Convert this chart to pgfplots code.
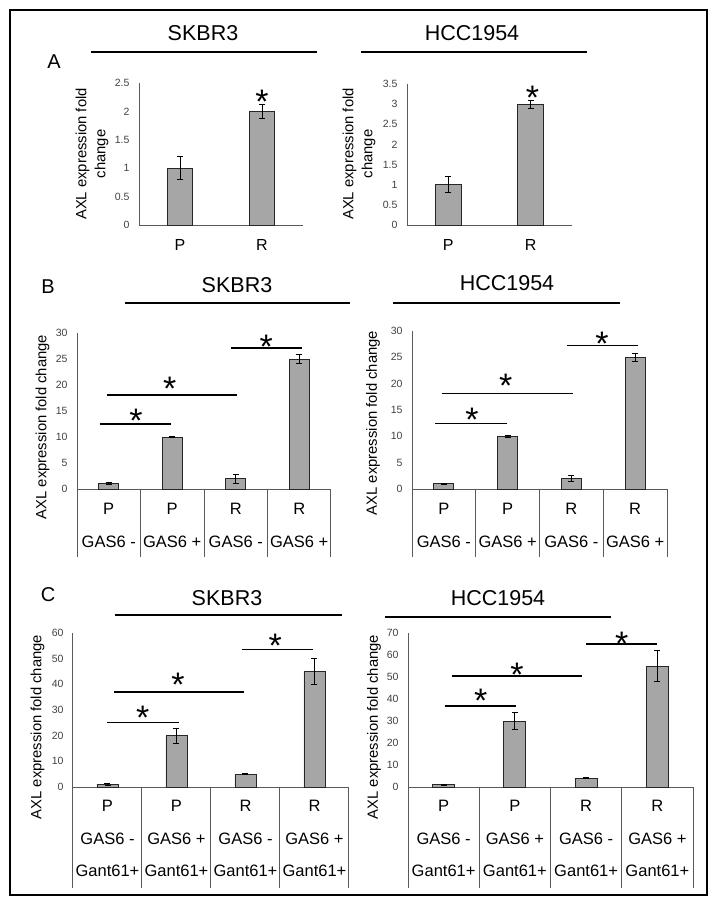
\documentclass[border=0pt]{standalone}
\usepackage{fontspec}
\setmainfont{Liberation Sans}
\usepackage{pgfplots}
\pgfplotsset{compat=1.18}
\definecolor{barfill}{RGB}{166,166,166}
\definecolor{baredge}{RGB}{38,38,38}
\definecolor{axgray}{RGB}{89,89,89}
\definecolor{tickgray}{RGB}{64,64,64}
\pgfplotsset{
  panel/.style={
    scale only axis, anchor=south west,
    axis x line=bottom, axis y line=left,
    axis line style={draw=axgray, line width=1pt, -},
    major tick length=0pt,
    enlargelimits=false, clip=false,
    ymin=0,
    yticklabel style={font=\fontsize{10.5}{12}\selectfont, text=tickgray, xshift=-6pt},
    /pgf/number format/assume math mode=true,
    xticklabel style={anchor=north, align=center, text=black},
  },
  mybar/.style={ybar, fill=barfill, draw=baredge, line width=0.8pt,
    /pgfplots/error bars/y dir=both, /pgfplots/error bars/y explicit,
    /pgfplots/error bars/error mark=-,
    /pgfplots/error bars/error bar style={black, line width=0.8pt},
    /pgfplots/error bars/error mark options={black, line width=0.8pt, mark size=3pt, rotate=90}},
}
\tikzset{
  sig/.style={black, line width=1.3pt},
  star/.style={font=\fontsize{34}{34}\selectfont, anchor=base, yshift=-19pt, inner sep=0pt},
  ttl/.style={font=\fontsize{21.5}{24}\selectfont},
  ylab/.style={font=\fontsize{14.8}{19}\selectfont, rotate=90, align=center, text=black},
}
\begin{document}
\begin{tikzpicture}
\useasboundingbox (0,0) rectangle (717pt,-906pt);
\draw[black, line width=2pt] (10pt,-10pt) rectangle (707pt,-895pt);

% ---------- Panel A ----------
\node[font=\fontsize{20}{24}\selectfont] at (54pt,-62pt) {A};
\node[ttl] at (203pt,-33pt) {SKBR3};
\draw[sig] (91pt,-52pt) -- (317pt,-52pt);
\node[ttl] at (472pt,-33pt) {HCC1954};
\draw[sig] (361pt,-52pt) -- (587pt,-52pt);
\node[ylab] at (92pt,-154pt) {AXL expression fold\\change};
\node[ylab] at (359pt,-154pt) {AXL expression fold\\change};

\begin{axis}[panel, at={(139pt,-225pt)}, width=164pt, height=142pt,
  xmin=-0.5, xmax=1.5, ymax=2.5, ytick={0,0.5,1,1.5,2,2.5},
  xtick={0,1}, xticklabels={P,R},
  xticklabel style={font=\fontsize{16}{19}\selectfont, yshift=-11pt}]
\addplot[mybar, bar width=25pt] coordinates {(0,1) +- (0,0.2) (1,2) +- (0,0.12)};
\node[star] at (axis cs:1,2.29) {*};
\end{axis}

\begin{axis}[panel, at={(407pt,-225pt)}, width=165pt, height=141pt,
  xmin=-0.5, xmax=1.5, ymax=3.5, ytick={0,0.5,1,1.5,2,2.5,3,3.5},
  xtick={0,1}, xticklabels={P,R},
  xticklabel style={font=\fontsize{16}{19}\selectfont, yshift=-11pt}]
\addplot[mybar, bar width=26pt] coordinates {(0,1) +- (0,0.2) (1,3) +- (0,0.1)};
\node[star] at (axis cs:1.02,3.35) {*};
\end{axis}

% ---------- Panel B ----------
\node[font=\fontsize{20}{24}\selectfont] at (48pt,-287pt) {B};
\node[ttl] at (237pt,-285pt) {SKBR3};
\draw[sig] (125pt,-303pt) -- (350pt,-303pt);
\node[ttl] at (507pt,-283pt) {HCC1954};
\draw[sig] (393pt,-303pt) -- (620pt,-303pt);
\node[ylab] at (42.5pt,-427pt) {AXL expression fold change};
\node[ylab] at (373pt,-423pt) {AXL expression fold change};

\begin{axis}[panel, at={(77pt,-489pt)}, width=254pt, height=156pt,
  xmin=-0.5, xmax=3.5, ymax=30, ytick={0,5,10,15,20,25,30},
  xtick={0,1,2,3}, xticklabels={{P\\GAS6 -},{P\\GAS6 +},{R\\GAS6 -},{R\\GAS6 +}},
  xticklabel style={font=\fontsize{16.5}{33}\selectfont, yshift=-11pt}]
\addplot[mybar, bar width=20pt] coordinates {(0,1) +- (0,0.2) (1,10) +- (0,0.1) (2,2) +- (0,0.9) (3,25) +- (0,0.9)};
\pgfplotsinvokeforeach{-0.5,0.5,1.5,2.5,3.5}{\draw[axgray, line width=1pt] (axis cs:#1,0) -- ++(0pt,-68pt);}
\draw[sig] (axis cs:-0.138,12.5) -- (axis cs:0.98,12.5);
\draw[sig] (axis cs:-0.027,18.1) -- (axis cs:2.02,18.1);
\draw[sig] (axis cs:1.925,27.1) -- (axis cs:3.04,27.1);
\node[star] at (axis cs:0.43,14.6) {*};
\node[star] at (axis cs:0.96,20.6) {*};
\node[star] at (axis cs:2.48,28.8) {*};
\end{axis}

\begin{axis}[panel, at={(412pt,-489pt)}, width=255pt, height=158pt,
  xmin=-0.5, xmax=3.5, ymax=30, ytick={0,5,10,15,20,25,30},
  xtick={0,1,2,3}, xticklabels={{P\\GAS6 -},{P\\GAS6 +},{R\\GAS6 -},{R\\GAS6 +}},
  xticklabel style={font=\fontsize{16.5}{33}\selectfont, yshift=-11pt}]
\addplot[mybar, bar width=20pt] coordinates {(0,1) +- (0,0.1) (1,10) +- (0,0.2) (2,2) +- (0,0.5) (3,25) +- (0,0.7)};
\pgfplotsinvokeforeach{-0.5,0.5,1.5,2.5,3.5}{\draw[axgray, line width=1pt] (axis cs:#1,0) -- ++(0pt,-68pt);}
\draw[sig] (axis cs:-0.139,12.5) -- (axis cs:0.99,12.5);
\draw[sig] (axis cs:-0.03,18.2) -- (axis cs:2.03,18.2);
\draw[sig] (axis cs:1.93,27.2) -- (axis cs:3.05,27.2);
\node[star] at (axis cs:0.44,14.6) {*};
\node[star] at (axis cs:0.97,20.9) {*};
\node[star] at (axis cs:2.48,29.0) {*};
\end{axis}

% ---------- Panel C ----------
\node[font=\fontsize{20}{24}\selectfont] at (48pt,-595pt) {C};
\node[ttl] at (227pt,-598pt) {SKBR3};
\draw[sig] (115pt,-615pt) -- (342pt,-615pt);
\node[ttl] at (498pt,-598pt) {HCC1954};
\draw[sig] (385pt,-617pt) -- (611pt,-617pt);
\node[ylab] at (37.5pt,-727pt) {AXL expression fold change};
\node[ylab] at (374pt,-727pt) {AXL expression fold change};

\begin{axis}[panel, at={(73pt,-787pt)}, width=276pt, height=154pt,
  xmin=-0.5, xmax=3.5, ymax=60, ytick={0,10,20,30,40,50,60},
  xtick={0,1,2,3}, xticklabels={{P\\GAS6 -\\Gant61+},{P\\GAS6 +\\Gant61+},{R\\GAS6 -\\Gant61+},{R\\GAS6 +\\Gant61+}},
  xticklabel style={font=\fontsize{16.5}{32.5}\selectfont, yshift=-10pt}]
\addplot[mybar, bar width=21pt] coordinates {(0,1) +- (0,0.3) (1,20) +- (0,3) (2,5) +- (0,0.2) (3,45) +- (0,5)};
\pgfplotsinvokeforeach{-0.5,0.5,1.5,2.5,3.5}{\draw[axgray, line width=1pt] (axis cs:#1,0) -- ++(0pt,-101pt);}
\draw[sig] (axis cs:-0.007,25) -- (axis cs:1.036,25);
\draw[sig] (axis cs:0.094,37) -- (axis cs:1.978,37);
\draw[sig] (axis cs:1.95,53.7) -- (axis cs:2.98,53.7);
\node[star] at (axis cs:0.51,30) {*};
\node[star] at (axis cs:1.02,42.5) {*};
\node[star] at (axis cs:2.43,58) {*};
\end{axis}

\begin{axis}[panel, at={(408pt,-787pt)}, width=285pt, height=154pt,
  xmin=-0.5, xmax=3.5, ymax=70, ytick={0,10,20,30,40,50,60,70},
  xtick={0,1,2,3}, xticklabels={{P\\GAS6 -\\Gant61+},{P\\GAS6 +\\Gant61+},{R\\GAS6 -\\Gant61+},{R\\GAS6 +\\Gant61+}},
  xticklabel style={font=\fontsize{16.5}{32.5}\selectfont, yshift=-10pt}]
\addplot[mybar, bar width=22pt] coordinates {(0,1) +- (0,0.2) (1,30) +- (0,4) (2,4) +- (0,0.3) (3,55) +- (0,7)};
\pgfplotsinvokeforeach{-0.5,0.5,1.5,2.5,3.5}{\draw[axgray, line width=1pt] (axis cs:#1,0) -- ++(0pt,-101pt);}
\draw[sig] (axis cs:0.019,36.8) -- (axis cs:1.016,36.8);
\draw[sig] (axis cs:0.118,50.5) -- (axis cs:1.94,50.5);
\draw[sig] (axis cs:2.0,65) -- (axis cs:2.995,65);
\node[star] at (axis cs:0.52,42.3) {*};
\node[star] at (axis cs:1.03,54.5) {*};
\node[star] at (axis cs:2.5,68.6) {*};
\end{axis}
\end{tikzpicture}
\end{document}
